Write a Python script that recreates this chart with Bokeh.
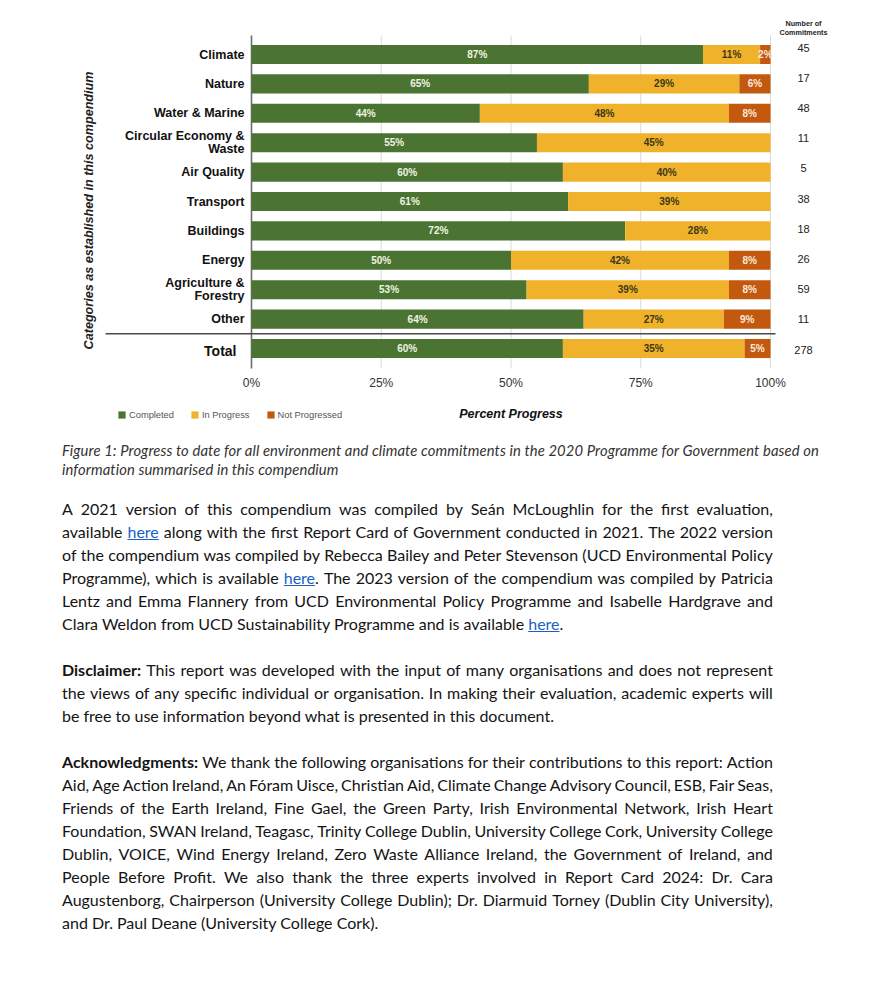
import math
from bokeh.plotting import figure
from bokeh.models import Range1d, ColumnDataSource, Legend, LegendItem, Div
from bokeh.layouts import column
from bokeh.core.properties import value
from bokeh.embed import file_html
from bokeh.resources import INLINE

# ---------------- data ----------------
categories = ["Climate", "Nature", "Water & Marine", "Circular Economy &\nWaste", "Air Quality",
              "Transport", "Buildings", "Energy", "Agriculture &\nForestry", "Other", "Total"]
completed = [87, 65, 44, 55, 60, 61, 72, 50, 53, 64, 60]
in_progress = [11, 29, 48, 45, 40, 39, 28, 42, 39, 27, 35]
not_progressed = [2, 6, 8, 0, 0, 0, 0, 8, 8, 9, 5]
commitments = [45, 17, 48, 11, 5, 38, 18, 26, 59, 11, 278]
series_names = ["Completed", "In Progress", "Not Progressed"]
x_ticks = [0, 25, 50, 75, 100]
x_tick_labels = ["0%", "25%", "50%", "75%", "100%"]
y_title = "Categories as established in this compendium"
x_title = "Percent Progress"
count_header = ["Number of", "Commitments"]

caption_lines = [
    "Figure 1: Progress to date for all environment and climate commitments in the 2020 Programme for Government based on",
    "information summarised in this compendium",
]
para1_lines = [
    "A 2021 version of this compendium was compiled by Seán McLoughlin for the first evaluation,",
    "available [here] along with the first Report Card of Government conducted in 2021. The 2022 version",
    "of the compendium was compiled by Rebecca Bailey and Peter Stevenson (UCD Environmental Policy",
    "Programme), which is available [here]. The 2023 version of the compendium was compiled by Patricia",
    "Lentz and Emma Flannery from UCD Environmental Policy Programme and Isabelle Hardgrave and",
    "Clara Weldon from UCD Sustainability Programme and is available [here].",
]
para2_lines = [
    "**Disclaimer:** This report was developed with the input of many organisations and does not represent",
    "the views of any specific individual or organisation. In making their evaluation, academic experts will",
    "be free to use information beyond what is presented in this document.",
]
para3_lines = [
    "**Acknowledgments:** We thank the following organisations for their contributions to this report: Action",
    "Aid, Age Action Ireland, An Fóram Uisce, Christian Aid, Climate Change Advisory Council, ESB, Fair Seas,",
    "Friends of the Earth Ireland, Fine Gael, the Green Party, Irish Environmental Network, Irish Heart",
    "Foundation, SWAN Ireland, Teagasc, Trinity College Dublin, University College Cork, University College",
    "Dublin, VOICE, Wind Energy Ireland, Zero Waste Alliance Ireland, the Government of Ireland, and",
    "People Before Profit. We also thank the three experts involved in Report Card 2024: Dr. Cara",
    "Augustenborg, Chairperson (University College Dublin); Dr. Diarmuid Torney (Dublin City University),",
    "and Dr. Paul Deane (University College Cork).",
]

# ---------------- layout helpers ----------------
W, H = 893, 441
PAGE_X0, PAGE_X100 = 251.0, 770.0
PX_PER_PCT = (PAGE_X100 - PAGE_X0) / 100.0
PAGE_Y0, ROW = 54.0, 29.4


def dx(px):
    return (px - PAGE_X0) / PX_PER_PCT


def dy(py):
    return (py - PAGE_Y0) / ROW


FONT = value("Liberation Sans")
GREEN, YELLOW, ORANGE = "#4b7332", "#f1b22b", "#c2590f"
colors = [GREEN, YELLOW, ORANGE]
label_colors = ["#eef3e4", "#3b3718", "#fbeadc"]

p = figure(width=W, height=H,
           x_range=Range1d(dx(0), dx(W)),
           y_range=Range1d(dy(H), dy(0)),
           output_backend="svg", toolbar_location=None,
           x_axis_location=None, y_axis_location=None, min_border=0)
p.outline_line_color = None
p.grid.visible = False
p.background_fill_color = "white"
p.border_fill_color = "white"

pos = list(range(len(categories)))
src = ColumnDataSource(dict(pos=pos, cat=categories, completed=completed,
                            in_progress=in_progress, not_progressed=not_progressed))

# grid lines and zero axis
p.segment(x0=x_ticks[1:], x1=x_ticks[1:], y0=dy(35), y1=dy(368), line_color="#dadada", line_width=1)
p.segment(x0=[x_ticks[0]], x1=[x_ticks[0]], y0=dy(35), y1=dy(368), line_color="#6e6e6e", line_width=1.6)

rs = p.hbar_stack(["completed", "in_progress", "not_progressed"], y="pos", height=0.65,
                  fill_color=colors, line_color=None, source=src)

# separator between categories and total
p.segment(x0=[dx(105)], x1=[dx(775)], y0=[len(categories) - 1.5], y1=[len(categories) - 1.5],
          line_color="#4a4a4a", line_width=1.4)

# segment labels
lx, ly, lt, lc = [], [], [], []
for i in pos:
    left = 0
    for k, vals in enumerate([completed, in_progress, not_progressed]):
        v = vals[i]
        if v > 0:
            lx.append(left + v / 2.0)
            ly.append(i)
            lt.append(f"{v}%")
            lc.append(label_colors[k])
        left += v
p.text(x=lx, y=ly, text=lt, text_color=lc, text_align="center", text_baseline="middle",
       text_font=FONT, text_font_size="10px", text_font_style="bold")

# category labels
p.text(x=dx(244), y=pos[:-1], text=categories[:-1], text_align="right", text_baseline="middle",
       text_font=FONT, text_font_size="12.5px", text_font_style="bold", text_color="#111111",
       text_line_height=0.95)
p.text(x=dx(236), y=[pos[-1] + 0.08], text=[categories[-1]], text_align="right", text_baseline="middle",
       text_font=FONT, text_font_size="14px", text_font_style="bold", text_color="#111111")

# commitments column
cy = [dy(47 + i * 30.2) for i in pos]
p.text(x=dx(803), y=cy, text=[str(c) for c in commitments], text_align="center", text_baseline="middle",
       text_font=FONT, text_font_size="11px", text_color="#222222")
p.text(x=dx(803), y=[dy(23), dy(32)], text=count_header, text_align="center", text_baseline="middle",
       text_font=FONT, text_font_size="7.2px", text_font_style="bold", text_color="#222222")

# x tick labels
p.text(x=x_ticks, y=dy(382), text=x_tick_labels, text_align="center", text_baseline="middle",
       text_font=FONT, text_font_size="12px", text_color="#333333")

# axis titles
p.text(x=dx(88), y=dy(210), text=[y_title], angle=math.pi / 2, text_align="center", text_baseline="middle",
       text_font=FONT, text_font_size="12.6px", text_font_style="bold italic", text_color="#222222")
p.text(x=50, y=dy(413), text=[x_title], text_align="center", text_baseline="middle",
       text_font=FONT, text_font_size="12.5px", text_font_style="bold italic", text_color="#111111")

legend = Legend(items=[LegendItem(label=n, renderers=[r]) for n, r in zip(series_names, rs)],
                orientation="horizontal", location=(117, 21.5), padding=0, margin=0,
                glyph_width=9, glyph_height=9, label_height=10, label_standoff=3, spacing=16,
                label_text_font="Liberation Sans", label_text_font_size="9.3px",
                label_text_color="#555555", border_line_color=None, background_fill_alpha=0)
p.add_layout(legend)

# ---------------- prose ----------------
LINK = '<span style="color:#1a5fc7;text-decoration:underline;">here</span>'


def md(s):
    s = s.replace("[here]", LINK)
    while "**" in s:
        s = s.replace("**", "<b>", 1).replace("**", "</b>", 1)
    return s


def just_line(s):
    words = md(s).replace(LINK, "@@LINK@@").split(" ")
    spans = "".join("<span>" + w.replace("@@LINK@@", LINK) + "</span>" for w in words)
    return ('<div style="display:flex;justify-content:space-between;white-space:nowrap;height:23px;">'
            + spans + "</div>")


def last_line(s):
    return '<div style="white-space:nowrap;height:23px;">' + md(s) + "</div>"


def para(lines, top):
    body = "".join(just_line(l) for l in lines[:-1]) + last_line(lines[-1])
    return f'<div style="margin-top:{top}px;">' + body + "</div>"


cap = "".join(f'<div style="white-space:nowrap;height:19px;">{l}</div>' for l in caption_lines)
html = ('<div style="width:773px;padding-left:62px;font-family:Lato, sans-serif;color:#141414;'
        'font-size:16px;line-height:23px;">'
        '<div style="font-style:italic;font-size:14.8px;letter-spacing:0.1px;line-height:19px;color:#333333;">'
        + cap + '</div>'
        + para(para1_lines, 18) + para(para2_lines, 23) + para(para3_lines, 23) + '</div>')

div = Div(text=html, width=W, height=1000 - H, margin=0)

layout = column(p, div, spacing=0)
open("out.html", "w", encoding="utf-8").write(file_html(layout, INLINE))
